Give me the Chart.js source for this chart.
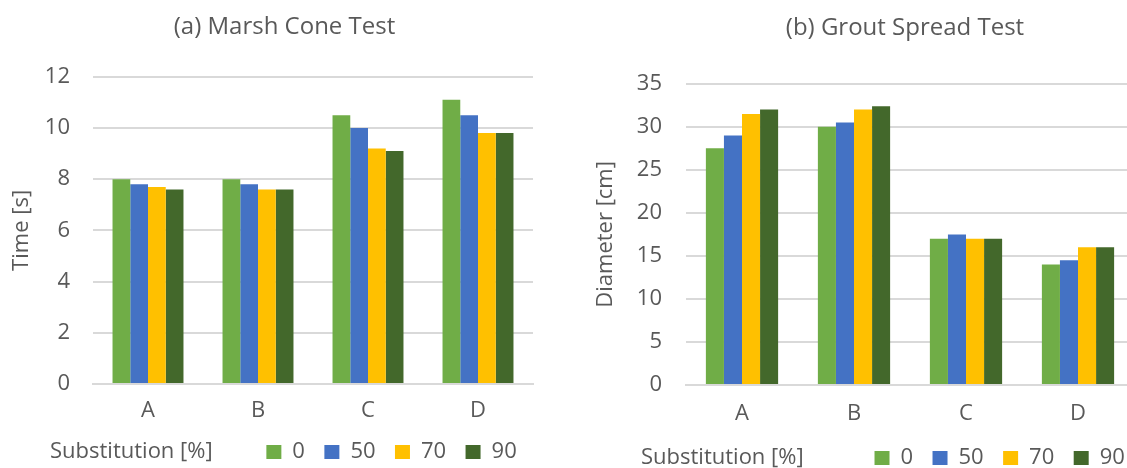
<!DOCTYPE html>
<html>
<head>
<meta charset="utf-8">
<script src="https://cdn.jsdelivr.net/npm/chart.js@4"></script>
<style>
  html, body { margin: 0; padding: 0; background: #fff; overflow: hidden; }
  .wrap { position: absolute; top: 0; }
</style>
</head>
<body>
<div class="wrap" style="left:0"><canvas id="marshChart" width="560" height="468"></canvas></div>
<div class="wrap" style="left:560px"><canvas id="groutChart" width="580" height="468"></canvas></div>
<script>
// data
const categories = ["A", "B", "C", "D"];
const substitution = ["0", "50", "70", "90"];
const barColors = ["#70AD47", "#4472C4", "#FFC000", "#43682B"];

// (a) marsh cone time [s], one array per substitution level
const marsh0 = [8.0, 8.0, 10.5, 11.1];
const marsh50 = [7.8, 7.8, 10.0, 10.5];
const marsh70 = [7.7, 7.6, 9.2, 9.8];
const marsh90 = [7.6, 7.6, 9.1, 9.8];

// (b) grout spread diameter [cm]
const grout0 = [27.5, 30.0, 17.0, 14.0];
const grout50 = [29.0, 30.5, 17.5, 14.5];
const grout70 = [31.5, 32.0, 17.0, 16.0];
const grout90 = [32.0, 32.4, 17.0, 16.0];

const textColor = "#595959";
const gridColor = "#d9d9d9";
const fontName = "'Open Sans', 'Liberation Sans', sans-serif";

Chart.defaults.font.family = fontName;
Chart.defaults.color = textColor;

function makeDatasets(series) {
  return series.map((vals, i) => ({
    label: substitution[i],
    data: vals,
    backgroundColor: barColors[i],
    categoryPercentage: 0.645,
    barPercentage: 1
  }));
}

// legend starts with the "Substitution [%]" caption, then the four boxes
function legendLabels(capSpaces) {
  return function (chart) {
    const items = Chart.defaults.plugins.legend.labels.generateLabels(chart);
    items.forEach(it => { it.fontColor = textColor; it.text = it.text + "  "; });
    return [{
      text: "Substitution [%]" + " ".repeat(capSpaces),
      fillStyle: "rgba(0,0,0,0)",
      strokeStyle: "rgba(0,0,0,0)",
      lineWidth: 0,
      fontColor: textColor,
      hidden: false,
      datasetIndex: -1
    }].concat(items);
  };
}

// legend and title sit off-centre in the original, nudge them
function boxShift(cfg) {
  return {
    id: "boxShift",
    afterLayout(chart) {
      const lg = chart.legend;
      if (lg) {
        lg.left += cfg.dx; lg.right += cfg.dx;
        lg.top += cfg.dy; lg.bottom += cfg.dy;
      }
      const tb = chart.titleBlock;
      if (tb) { tb.left += cfg.titleDx; tb.right += cfg.titleDx; }
    }
  };
}

function makeChart(id, cfg) {
  return new Chart(document.getElementById(id), {
    type: "bar",
    data: { labels: categories, datasets: makeDatasets(cfg.series) },
    options: {
      responsive: false,
      animation: false,
      layout: { padding: { left: 0, right: cfg.padRight, top: 0, bottom: 0 } },
      plugins: {
        title: {
          display: true,
          text: cfg.title,
          color: textColor,
          font: { size: 24, weight: "normal" },
          padding: { top: cfg.titleTop, bottom: cfg.titleBottom }
        },
        legend: {
          position: "bottom",
          align: "start",
          onClick: null,
          labels: {
            boxWidth: 15,
            boxHeight: 14,
            padding: 8,
            color: textColor,
            font: { size: 22 },
            generateLabels: legendLabels(cfg.capSpaces)
          }
        },
        tooltip: { enabled: false }
      },
      scales: {
        x: {
          grid: { display: false, drawTicks: false },
          border: { color: gridColor, width: 2 },
          ticks: { padding: cfg.xPad, font: { size: 22 }, color: textColor },
          afterFit(scale) { scale.height = cfg.xHeight; }
        },
        y: {
          min: 0,
          max: cfg.max,
          ticks: { stepSize: cfg.step, padding: cfg.yPad, font: { size: 22 }, color: textColor },
          grid: { color: gridColor, lineWidth: 2, drawTicks: false },
          border: { display: false },
          title: {
            display: true,
            text: cfg.yTitle,
            color: textColor,
            font: { size: 22 },
            padding: { top: cfg.yTitlePad, bottom: 0 }
          },
          afterFit(scale) { scale.width = cfg.yWidth; }
        }
      }
    },
    plugins: [boxShift(cfg)]
  });
}

makeChart("marshChart", {
  title: "(a) Marsh Cone Test",
  series: [marsh0, marsh50, marsh70, marsh90],
  yTitle: "Time [s]",
  max: 12, step: 2,
  padRight: 27,
  titleTop: 13, titleBottom: 35, titleDx: 18,
  xHeight: 44, xPad: 14,
  yWidth: 93, yPad: 23, yTitlePad: 9,
  capSpaces: 8, dx: 16, dy: 5
});

makeChart("groutChart", {
  title: "(b) Grout Spread Test",
  series: [grout0, grout50, grout70, grout90],
  yTitle: "Diameter [cm]",
  max: 35, step: 5,
  padRight: 6,
  titleTop: 14, titleBottom: 41, titleDx: 58,
  xHeight: 43, xPad: 16,
  yWidth: 126, yPad: 24, yTitlePad: 33,
  capSpaces: 11, dx: 47, dy: 11
});
</script>
</body>
</html>
